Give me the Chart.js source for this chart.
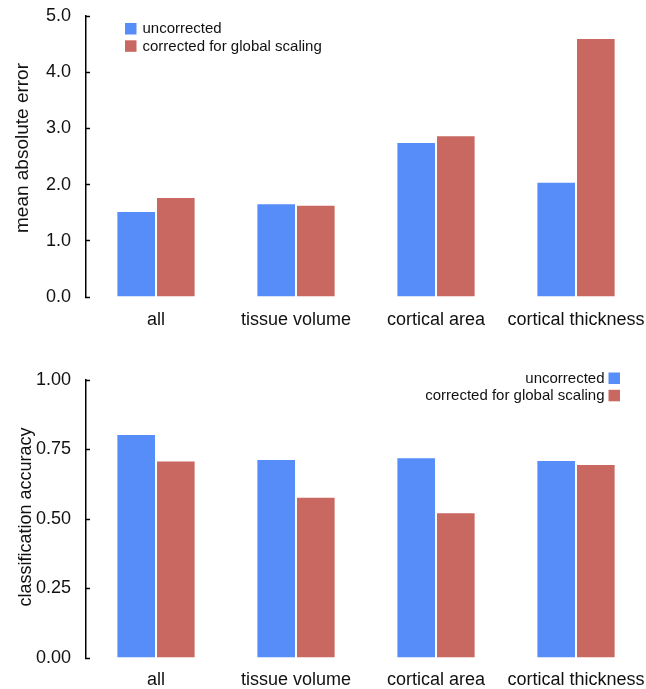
<!DOCTYPE html>
<html>
<head>
<meta charset="utf-8">
<script src="https://cdn.jsdelivr.net/npm/chart.js@4/dist/chart.umd.min.js"></script>
<style>
  html, body { margin: 0; padding: 0; background: #fff; }
  #wrap { position: relative; width: 646px; height: 689px; }
  canvas { position: absolute; left: 0; }
  #errChart { top: 0; }
  #accChart { top: 340px; }
</style>
</head>
<body>
<div id="wrap">
  <canvas id="errChart" width="646" height="340"></canvas>
  <canvas id="accChart" width="646" height="349"></canvas>
</div>
<script>
// Measure groups shared by both panels
const categories = ['all', 'tissue volume', 'cortical area', 'cortical thickness'];
const seriesNames = ['uncorrected', 'corrected for global scaling'];

// Top panel: mean absolute error
const maeUncorrected = [1.53, 1.67, 2.76, 2.05];
const maeCorrected   = [1.78, 1.64, 2.88, 4.61];
const maeTicks = ['0.0', '1.0', '2.0', '3.0', '4.0', '5.0'];

// Bottom panel: classification accuracy
const accUncorrected = [0.806, 0.716, 0.722, 0.712];
const accCorrected   = [0.710, 0.580, 0.524, 0.698];
const accTicks = ['0.00', '0.25', '0.50', '0.75', '1.00'];

const FONT = "'Liberation Sans', Arial, Helvetica, sans-serif";
const BLUE = '#568df8';
const RED = '#c96761';

// Small boxed legend drawn inside the plot area
const boxLegend = {
  id: 'boxLegend',
  afterDraw(chart, args, opts) {
    const { ctx, chartArea } = chart;
    ctx.save();
    ctx.font = opts.fontSize + 'px ' + FONT;
    ctx.textBaseline = 'middle';
    chart.data.datasets.forEach((ds, i) => {
      const top = chartArea.top + opts.dy + i * opts.rowHeight;
      const mid = top + opts.box / 2;
      let bx, tx;
      if (opts.side === 'left') {
        bx = chartArea.left + opts.dx;
        tx = bx + opts.box + opts.gap;
        ctx.textAlign = 'left';
      } else {
        bx = chartArea.right - opts.dx - opts.box;
        tx = bx - opts.gap;
        ctx.textAlign = 'right';
      }
      ctx.fillStyle = ds.backgroundColor;
      ctx.fillRect(bx, top, opts.box, opts.box);
      ctx.fillStyle = '#111';
      ctx.fillText(ds.label, tx, mid + 0.5);
    });
    ctx.restore();
  }
};

// Rotated y-axis caption, placed beside the value axis
const yCaption = {
  id: 'yCaption',
  afterDraw(chart, args, opts) {
    const { ctx, chartArea } = chart;
    const cy = (chartArea.top + chartArea.bottom) / 2 + opts.dy;
    ctx.save();
    ctx.translate(opts.x, cy);
    ctx.rotate(-Math.PI / 2);
    ctx.font = opts.fontSize + 'px ' + FONT;
    ctx.fillStyle = '#111';
    ctx.textAlign = 'center';
    ctx.textBaseline = 'middle';
    ctx.fillText(opts.text, 0, 0);
    ctx.restore();
  }
};

function makePanel(canvasId, valsA, valsB, maxV, step, tickLabels, padTop, xAxisHeight, xPad, legendOpts, captionOpts) {
  return new Chart(document.getElementById(canvasId), {
    type: 'bar',
    data: {
      labels: categories,
      datasets: [
        { label: seriesNames[0], data: valsA, backgroundColor: BLUE,
          borderColor: 'rgba(255,255,255,0.55)', borderWidth: 1 },
        { label: seriesNames[1], data: valsB, backgroundColor: RED,
          borderColor: 'rgba(255,255,255,0.55)', borderWidth: 1 }
      ]
    },
    plugins: [boxLegend, yCaption],
    options: {
      responsive: false,
      animation: false,
      devicePixelRatio: 1,
      layout: { padding: { top: padTop, right: 0, bottom: 0, left: 0 } },
      datasets: { bar: { categoryPercentage: 0.566, barPercentage: 1.0 } },
      plugins: {
        legend: { display: false },
        tooltip: { enabled: false },
        boxLegend: legendOpts,
        yCaption: captionOpts
      },
      scales: {
        x: {
          grid: { display: false },
          border: { display: false },
          ticks: {
            color: '#111', font: { family: FONT, size: 18 }, padding: xPad,
            maxRotation: 0, minRotation: 0, autoSkip: false
          },
          afterFit(scale) {
            scale.height = xAxisHeight;
            scale.paddingLeft = 0;
            scale.paddingRight = 0;
          }
        },
        y: {
          min: 0, max: maxV,
          ticks: {
            stepSize: step,
            color: '#111',
            font: { family: FONT, size: 18 },
            padding: 19,
            callback: (v, i) => tickLabels[i]
          },
          grid: {
            display: true, drawOnChartArea: false, drawTicks: true,
            tickLength: -4, tickColor: '#000', tickWidth: 1.5
          },
          border: { display: true, color: '#000', width: 1.5 },
          afterFit(scale) {
            scale.width = 86;
            scale.paddingTop = 0;
            scale.paddingBottom = 0;
          }
        }
      }
    }
  });
}

makePanel('errChart', maeUncorrected, maeCorrected, 5, 1, maeTicks, 16, 43, 4,
  { side: 'left', dx: 39, dy: 7, box: 11.5, rowHeight: 17.3, gap: 6, fontSize: 15 },
  { text: 'mean absolute error', x: 23, dy: -8.5, fontSize: 19 });

makePanel('accChart', accUncorrected, accCorrected, 1, 0.25, accTicks, 40, 31, 3,
  { side: 'right', dx: 26, dy: -7.5, box: 11.5, rowHeight: 17.3, gap: 4, fontSize: 15 },
  { text: 'classification accuracy', x: 26, dy: -2, fontSize: 18 });
</script>
</body>
</html>
